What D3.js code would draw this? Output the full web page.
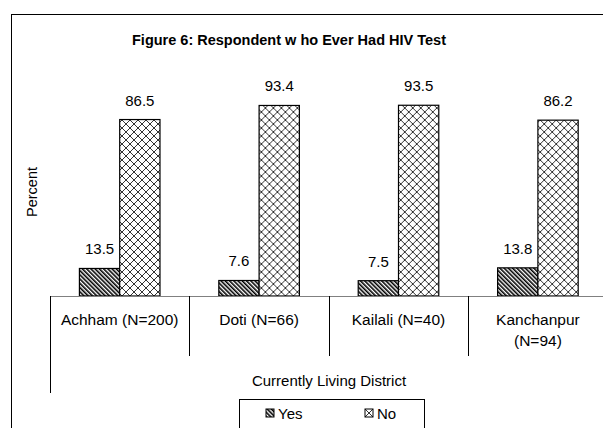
<!DOCTYPE html>
<html>
<head>
<meta charset="utf-8">
<script src="https://cdn.jsdelivr.net/npm/d3@7"></script>
<style>
  html, body { margin: 0; padding: 0; background: #fff; }
  svg text { font-family: "Liberation Sans", Arial, sans-serif; fill: #000; }
</style>
</head>
<body>
<svg id="chart" width="603" height="428"></svg>
<script>
const categories = ["Achham (N=200)", "Doti (N=66)", "Kailali (N=40)", "Kanchanpur|(N=94)"];
const seriesNames = ["Yes", "No"];
const yesValues = [13.5, 7.6, 7.5, 13.8];
const noValues = [86.5, 93.4, 93.5, 86.2];
const titleText = "Figure 6: Respondent w ho Ever Had HIV Test";
const yTitle = "Percent";
const xTitle = "Currently Living District";

const svg = d3.select("#chart");

// patterns
const defs = svg.append("defs");
const pYes = defs.append("pattern").attr("id", "pYes")
  .attr("patternUnits", "userSpaceOnUse").attr("width", 3).attr("height", 3)
  .attr("patternTransform", "rotate(-45)");
pYes.append("rect").attr("width", 3).attr("height", 3).attr("fill", "#fff");
pYes.append("rect").attr("x", 0).attr("width", 1.6).attr("height", 3).attr("fill", "#000");

const pNo = defs.append("pattern").attr("id", "pNo")
  .attr("patternUnits", "userSpaceOnUse").attr("width", 8).attr("height", 8);
pNo.append("rect").attr("width", 8).attr("height", 8).attr("fill", "#fff");
pNo.append("path").attr("d", "M0,0L8,8M8,0L0,8M-1,7L1,9M7,-1L9,1")
  .attr("stroke", "#333").attr("stroke-width", 1);

const fills = {Yes: "url(#pYes)", No: "url(#pNo)"};

// frame
svg.append("rect").attr("x", 11.5).attr("y", 14.5).attr("width", 640).attr("height", 440)
  .attr("fill", "none").attr("stroke", "#000").attr("stroke-width", 1);

// title
svg.append("text").attr("x", 289).attr("y", 45).attr("text-anchor", "middle")
  .attr("font-size", 14.5).attr("font-weight", "bold").text(titleText);

const x = d3.scaleBand().domain(categories).range([50, 607.6]).paddingInner(0).paddingOuter(0);
const xs = d3.scaleBand().domain(seriesNames).range([0, x.bandwidth()]).paddingInner(0).paddingOuter(0.73);
const y = d3.scaleLinear().domain([0, 100]).range([296, 92]);

const data = categories.map((c, i) => ({cat: c, vals: [{s: "Yes", v: yesValues[i]}, {s: "No", v: noValues[i]}]}));

const g = svg.append("g");
const groups = g.selectAll("g.cat").data(data).join("g").attr("class", "cat")
  .attr("transform", d => `translate(${x(d.cat)},0)`);

groups.selectAll("rect").data(d => d.vals).join("rect")
  .attr("x", d => xs(d.s)).attr("y", d => y(d.v))
  .attr("width", xs.bandwidth()).attr("height", d => y(0) - y(d.v))
  .attr("fill", d => fills[d.s]).attr("stroke", "#000").attr("stroke-width", 1.2);

groups.selectAll("text.val").data(d => d.vals).join("text").attr("class", "val")
  .attr("x", d => xs(d.s) + xs.bandwidth() / 2).attr("y", d => y(d.v) - 14)
  .attr("text-anchor", "middle").attr("font-size", 15).text(d => d.v.toFixed(1));

// baseline axis
svg.append("line").attr("x1", 50).attr("x2", 610).attr("y1", 296.5).attr("y2", 296.5)
  .attr("stroke", "#808080").attr("stroke-width", 1);

// category separators
const seps = categories.map(c => x(c)).concat([x.range()[1]]);
svg.selectAll("line.sep").data(seps).join("line").attr("class", "sep")
  .attr("x1", d => Math.round(d) + 0.5).attr("x2", d => Math.round(d) + 0.5)
  .attr("y1", 296).attr("y2", (d, i) => i === 0 ? 393 : 356)
  .attr("stroke", "#000").attr("stroke-width", 1);

// category labels
groups.each(function(d) {
  const lines = d.cat.split("|");
  const t = d3.select(this).append("text").attr("text-anchor", "middle").attr("font-size", 15.5);
  lines.forEach((ln, j) => {
    t.append("tspan").attr("x", x.bandwidth() / 2).attr("y", 325 + j * 21).text(ln);
  });
});

// axis titles
svg.append("text").attr("transform", "translate(37,192) rotate(-90)").attr("text-anchor", "middle")
  .attr("font-size", 14.5).text(yTitle);
svg.append("text").attr("x", 329).attr("y", 386).attr("text-anchor", "middle")
  .attr("font-size", 15).text(xTitle);

// legend
const lg = svg.append("g");
lg.append("rect").attr("x", 239.5).attr("y", 399.5).attr("width", 185).attr("height", 40)
  .attr("fill", "#fff").attr("stroke", "#000").attr("stroke-width", 1);
const legX = [266, 365];
const items = lg.selectAll("g.item").data(seriesNames).join("g").attr("class", "item")
  .attr("transform", (d, i) => `translate(${legX[i]},409)`);
items.append("rect").attr("width", 8).attr("height", 8)
  .attr("fill", d => fills[d]).attr("stroke", "#000").attr("stroke-width", 1);
items.append("text").attr("x", 12).attr("y", 9.5).attr("font-size", 15).text(d => d);
</script>
</body>
</html>
